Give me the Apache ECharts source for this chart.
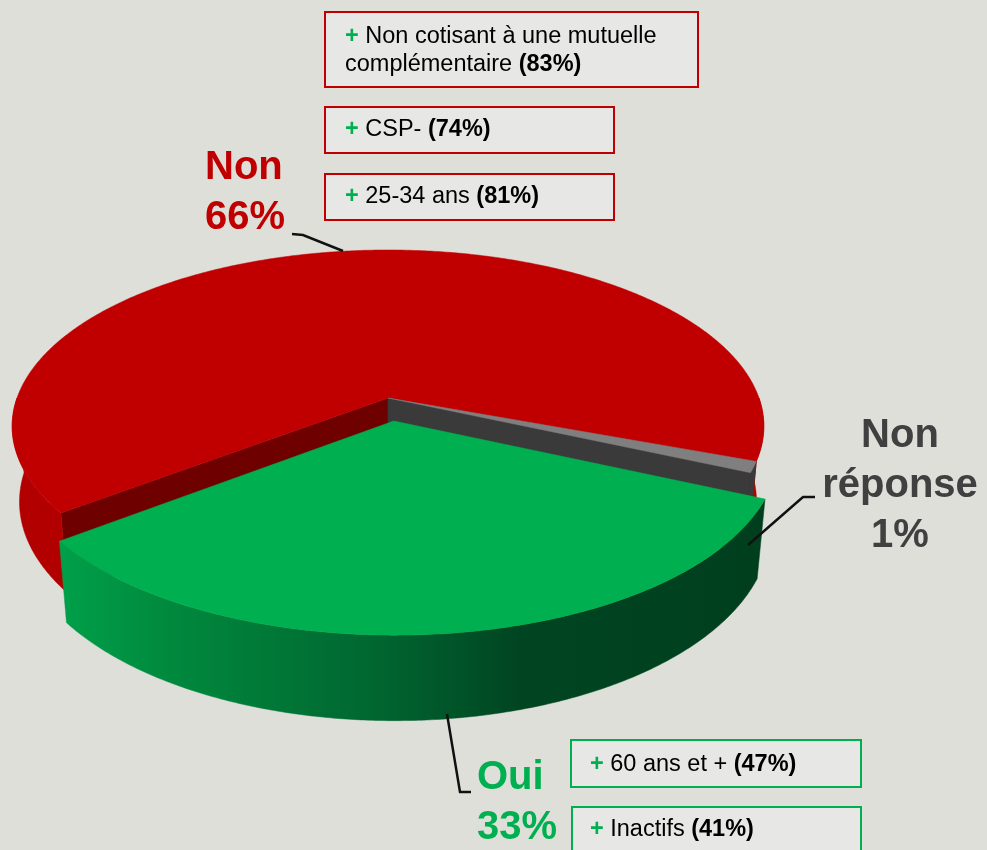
<!DOCTYPE html>
<html><head><meta charset="utf-8">
<script src="https://cdn.jsdelivr.net/npm/echarts@6/dist/echarts.min.js"></script>
<style>html,body{margin:0;padding:0;background:#dfdfda}#c{width:987px;height:850px}</style>
</head><body><div id="c"></div>
<script>
// ---- data ----
const categories = ['Oui', 'Non', 'Non réponse'];
const values = [33, 66, 1];
const nonNotes = ['Non cotisant à une mutuelle\ncomplémentaire', 'CSP-', '25-34 ans'];
const nonNotePct = [83, 74, 81];
const ouiNotes = ['60 ans et +', 'Inactifs'];
const ouiNotePct = [47, 41];

// ---- styling / layout ----
const FONT = '"Liberation Sans", Arial, sans-serif';
const cfg = { cx: 388, cy: 398, half: 371, sinA: 0.4628, dist: 5.54, depth: 0.232, startAngle: 24 };
cfg.cosA = Math.sqrt(1 - cfg.sinA * cfg.sinA);
const explode = [0.132, 0, 0];
const topColors = ['#00b050', '#c00000', '#7f7f7f'];
const faceColors = ['#004a24', '#6e0000', '#3a3a3a'];
const greenWall = new echarts.graphic.LinearGradient(0, 0, 1, 0, [
  { offset: 0, color: '#00a04a' }, { offset: 0.15, color: '#008a3e' },
  { offset: 0.45, color: '#006630' }, { offset: 0.65, color: '#004522' }, { offset: 1, color: '#003f1e' }
]);
const wallColors = [greenWall, '#b20000', '#3a3a3a'];
const labelColors = ['#00b050', '#c00000', '#404040'];

const total = values.reduce((a, b) => a + b, 0);
const RAD = Math.PI / 180;
function sliceAngles(i) {
  let before = 0;
  for (let k = 0; k < i; k++) before += values[k];
  const a0 = cfg.startAngle + 360 * before / total;
  return [a0, a0 + 360 * values[i] / total];
}
// painter order: back slices first
const order = values.map((v, i) => { const a = sliceAngles(i); return [i, Math.sin((a[0] + a[1]) / 2 * RAD)]; })
  .sort((p, q) => p[1] - q[1]).map(p => p[0]);

function renderItem(params, api) {
  const i = params.dataIndex;
  const [a0, a1] = sliceAngles(i);
  const mid = (a0 + a1) / 2 * RAD;
  const ox = explode[i] * Math.cos(mid), oz = explode[i] * Math.sin(mid);
  const D = cfg.depth, f = cfg.half * cfg.dist;
  function P(deg, r, y) {
    const X = r * Math.cos(deg * RAD) + ox, Z = r * Math.sin(deg * RAD) + oz;
    const d = cfg.dist - (Z * cfg.cosA + y * cfg.sinA);
    const v = y * cfg.cosA - Z * cfg.sinA;
    return [cfg.cx + f * X / d, cfg.cy - f * v / d];
  }
  function arc(s, e, y) {
    const pts = []; const n = Math.max(2, Math.ceil((e - s) / 0.5));
    for (let k = 0; k <= n; k++) pts.push(P(s + (e - s) * k / n, 1, y));
    return pts;
  }
  const rank = order.indexOf(i);
  const children = [];
  let z = rank * 20;
  const poly = (pts, fill) => children.push({ type: 'polygon', z2: z++, shape: { points: pts }, style: { fill: fill, stroke: fill, lineWidth: 0.5 } });
  if (Math.cos(a0 * RAD) < 0) poly([P(a0, 0, 0), P(a0, 1, 0), P(a0, 1, -D), P(a0, 0, -D)], faceColors[i]);
  if (Math.cos(a1 * RAD) > 0) poly([P(a1, 0, 0), P(a1, 1, 0), P(a1, 1, -D), P(a1, 0, -D)], faceColors[i]);
  for (let k = -1; k <= 2; k++) {
    const s = Math.max(a0, 360 * k), e = Math.min(a1, 360 * k + 180);
    if (e > s) poly(arc(s, e, 0).concat(arc(s, e, -D).reverse()), wallColors[i]);
  }
  poly([P(0, 0, 0)].concat(arc(a0, a1, 0)), topColors[i]);
  return { type: 'group', children: children };
}

// ---- annotations ----
const graphics = [];
function box(x, y, w, h, color) {
  graphics.push({ type: 'rect', shape: { x: x, y: y, width: w, height: h }, style: { fill: '#e7e7e6', stroke: color, lineWidth: 2 }, z: 10 });
}
function note(x, y, label, pct) {
  const lines = label.split('\n');
  lines[0] = '{g|+} ' + lines[0];
  lines[lines.length - 1] += ' {b|(' + pct + '%)}';
  graphics.push({ type: 'text', x: x, y: y, z: 11, style: {
    text: lines.join('\n'), fill: '#000', fontSize: 23.5, fontFamily: FONT,
    lineHeight: 28, verticalAlign: 'middle', align: 'left',
    rich: { g: { fill: '#00b050', fontWeight: 'bold', fontSize: 23.5, fontFamily: FONT, lineHeight: 28 },
            b: { fill: '#000', fontWeight: 'bold', fontSize: 23.5, fontFamily: FONT, lineHeight: 28 } } } });
}
box(325, 12, 373, 75, '#c00000'); note(345, 51, nonNotes[0], nonNotePct[0]);
box(325, 107, 289, 46, '#c00000'); note(345, 130, nonNotes[1], nonNotePct[1]);
box(325, 174, 289, 46, '#c00000'); note(345, 197, nonNotes[2], nonNotePct[2]);
box(571, 740, 290, 47, '#00b050'); note(590, 765, ouiNotes[0], ouiNotePct[0]);
box(572, 807, 289, 47, '#00b050'); note(590, 830, ouiNotes[1], ouiNotePct[1]);

function bigLabel(i, x, y, align, text) {
  graphics.push({ type: 'text', x: x, y: y, z: 11, style: {
    text: text, fill: labelColors[i], fontSize: 40, fontWeight: 'bold', fontFamily: FONT,
    lineHeight: 50, align: align, verticalAlign: 'middle' } });
}
bigLabel(1, 205, 193, 'left', categories[1] + '\n' + values[1] + '%');
bigLabel(2, 900, 486, 'center', categories[2].replace(' ', '\n') + '\n' + values[2] + '%');
bigLabel(0, 477, 803, 'left', categories[0] + '\n' + values[0] + '%');

function leader(pts) {
  graphics.push({ type: 'polyline', z: 12, shape: { points: pts }, style: { stroke: '#111', lineWidth: 2.5, fill: null } });
}
leader([[292, 234], [303, 235], [343, 251]]);
leader([[815, 497], [803, 497], [748, 545]]);
leader([[447, 714], [460, 792], [471, 792]]);

const chart = echarts.init(document.getElementById('c'), null, { renderer: 'canvas' });
chart.setOption({
  backgroundColor: '#dfdfda',
  animation: false,
  series: [{
    type: 'custom', coordinateSystem: 'none', silent: true,
    data: values.map((v, i) => ({ name: categories[i], value: v })),
    renderItem: renderItem
  }],
  graphic: graphics
});
</script></body></html>
